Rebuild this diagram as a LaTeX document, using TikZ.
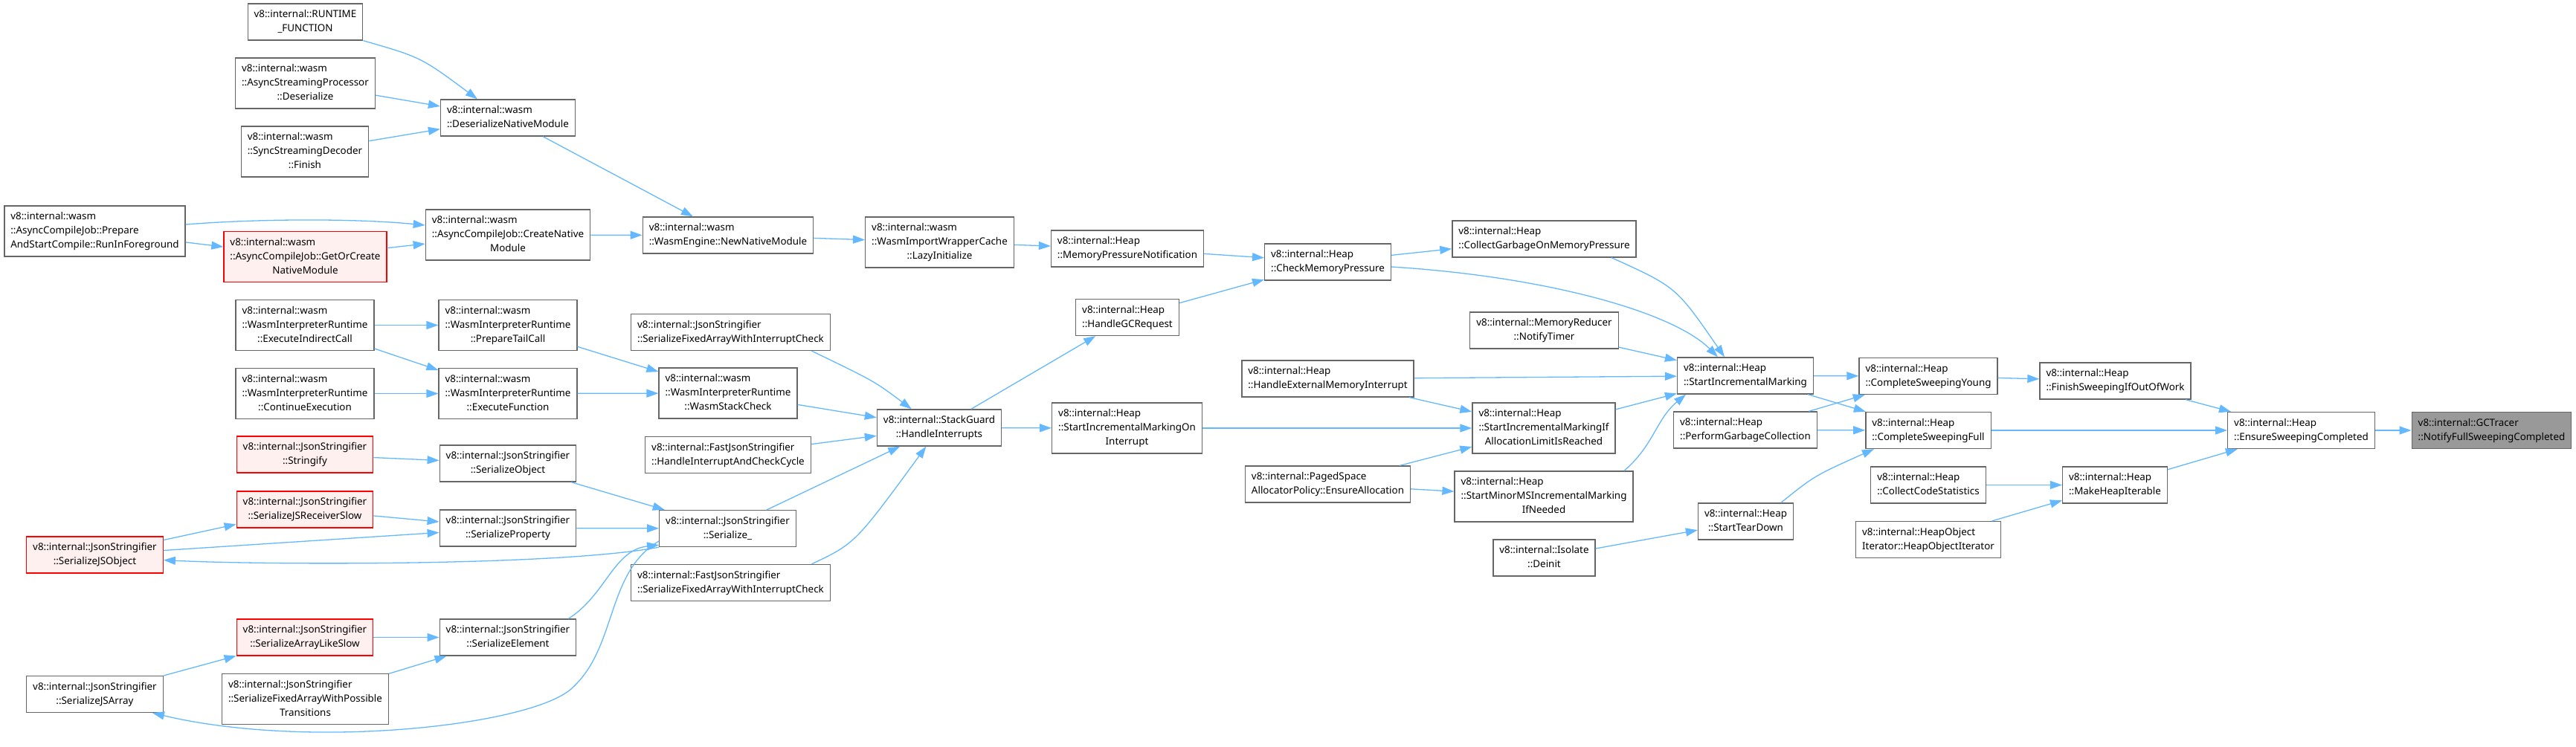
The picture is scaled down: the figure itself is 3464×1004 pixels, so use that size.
\documentclass[tikz,border=0pt]{standalone}
\usepackage{fontspec}
\newfontfamily\graphfont{Noto Sans}
\usetikzlibrary{arrows.meta}
\definecolor{edgeblue}{HTML}{63B8FF}
\definecolor{boxgray}{HTML}{666666}
\definecolor{hotred}{HTML}{FF0000}
\definecolor{hotfill}{HTML}{FFF0F0}
\definecolor{selgray}{HTML}{999999}
% all lines but the last flush left, the last one centred
\newcommand{\fnlabel}[2]{\begin{tabular}{@{}l@{}}#1\\\multicolumn{1}{@{}c@{}}{#2}\end{tabular}}

\begin{document}
\begin{tikzpicture}[x=1pt, y=-1pt,
  fn/.style={draw=boxgray, line width=1.3pt, fill=white, inner xsep=8.5pt, inner ysep=5.5pt,
    font=\graphfont\fontsize{13.4pt}{19pt}\selectfont},
  hot/.style={fn, draw=hotred, fill=hotfill},
  sel/.style={fn, fill=selgray},
  callarrow/.style={draw=edgeblue, line width=1.3pt, -{Triangle[length=16pt,width=11pt]}}]
  \useasboundingbox (0,0) rectangle (3464,1004);
  % wasm callers
  \node[fn] (runtime)       at (410.5,29.5) {\fnlabel{v8::internal::RUNTIME}{\_FUNCTION}};
  \node[fn] (asyncdeser)    at (410.5,112)  {\fnlabel{v8::internal::wasm\\::AsyncStreamingProcessor}{::Deserialize}};
  \node[fn] (syncfinish)    at (410,204)    {\fnlabel{v8::internal::wasm\\::SyncStreamingDecoder}{::Finish}};
  \node[fn] (deserializenm) at (683,158.5)  {\fnlabel{v8::internal::wasm}{::DeserializeNativeModule}};
  \node[fn] (runfg)         at (127.5,311)  {\fnlabel{v8::internal::wasm\\::AsyncCompileJob::Prepare}{AndStartCompile::RunInForeground}};
  \node[hot] (getorcreate)  at (410.5,345.5) {\fnlabel{v8::internal::wasm\\::AsyncCompileJob::GetOrCreate}{NativeModule}};
  \node[fn] (createnm)      at (683,316)    {\fnlabel{v8::internal::wasm\\::AsyncCompileJob::CreateNative}{Module}};
  \node[fn] (newnm)         at (979,316.5)  {\fnlabel{v8::internal::wasm}{::WasmEngine::NewNativeModule}};
  \node[fn] (lazyinit)      at (1263.5,326) {\fnlabel{v8::internal::wasm\\::WasmImportWrapperCache}{::LazyInitialize}};
  \node[fn] (execindirect)  at (410,437.5)  {\fnlabel{v8::internal::wasm\\::WasmInterpreterRuntime}{::ExecuteIndirectCall}};
  \node[fn] (preparetail)   at (683,437.5)  {\fnlabel{v8::internal::wasm\\::WasmInterpreterRuntime}{::PrepareTailCall}};
  \node[fn] (continueexec)  at (410,529.5)  {\fnlabel{v8::internal::wasm\\::WasmInterpreterRuntime}{::ContinueExecution}};
  \node[fn] (execfunc)      at (683,529.5)  {\fnlabel{v8::internal::wasm\\::WasmInterpreterRuntime}{::ExecuteFunction}};
  \node[fn] (wasmstack)     at (979,529)    {\fnlabel{v8::internal::wasm\\::WasmInterpreterRuntime}{::WasmStackCheck}};
  % json stringifier
  \node[hot] (stringify)     at (410,611.5) {\fnlabel{v8::internal::JsonStringifier}{::Stringify}};
  \node[hot] (receiverslow)  at (410,685.5) {\fnlabel{v8::internal::JsonStringifier}{::SerializeJSReceiverSlow}};
  \node[hot] (jsobject)      at (127.5,746.5) {\fnlabel{v8::internal::JsonStringifier}{::SerializeJSObject}};
  \node[hot] (arraylikeslow) at (410,857.5) {\fnlabel{v8::internal::JsonStringifier}{::SerializeArrayLikeSlow}};
  \node[fn] (jsarray)        at (127.5,934) {\fnlabel{v8::internal::JsonStringifier}{::SerializeJSArray}};
  \node[fn] (possibletrans)  at (410.5,940.5) {\fnlabel{v8::internal::JsonStringifier\\::SerializeFixedArrayWithPossible}{Transitions}};
  \node[fn] (serobject)      at (683,623.5) {\fnlabel{v8::internal::JsonStringifier}{::SerializeObject}};
  \node[fn] (serproperty)    at (683,710.5) {\fnlabel{v8::internal::JsonStringifier}{::SerializeProperty}};
  \node[fn] (serelement)     at (683,857.5) {\fnlabel{v8::internal::JsonStringifier}{::SerializeElement}};
  \node[fn] (serialize)      at (978.5,711) {\fnlabel{v8::internal::JsonStringifier}{::Serialize\_}};
  \node[fn] (jsfixedcheck)   at (982.5,447) {\fnlabel{v8::internal::JsonStringifier}{::SerializeFixedArrayWithInterruptCheck}};
  \node[fn] (handlecycle)    at (979,612)   {\fnlabel{v8::internal::FastJsonStringifier}{::HandleInterruptAndCheckCycle}};
  \node[fn] (fastfixedcheck) at (982.5,784) {\fnlabel{v8::internal::FastJsonStringifier}{::SerializeFixedArrayWithInterruptCheck}};
  \node[fn] (stackguard)     at (1263,575.5) {\fnlabel{v8::internal::StackGuard}{::HandleInterrupts}};
  % heap
  \node[fn] (mempressnotif)  at (1516,334.5) {\fnlabel{v8::internal::Heap}{::MemoryPressureNotification}};
  \node[fn] (handlegc)       at (1516,427)   {\fnlabel{v8::internal::Heap}{::HandleGCRequest}};
  \node[fn] (startimonint)   at (1515.5,576) {\fnlabel{v8::internal::Heap\\::StartIncrementalMarkingOn}{Interrupt}};
  \node[fn] (checkmem)       at (1785.5,352.5) {\fnlabel{v8::internal::Heap}{::CheckMemoryPressure}};
  \node[fn] (handleextmem)   at (1785.5,509.5) {\fnlabel{v8::internal::Heap}{::HandleExternalMemoryInterrupt}};
  \node[fn] (ensurealloc)    at (1785.5,651.5) {\fnlabel{v8::internal::PagedSpace}{AllocatorPolicy::EnsureAllocation}};
  \node[fn] (collectgarbage) at (2076.5,321.5) {\fnlabel{v8::internal::Heap}{::CollectGarbageOnMemoryPressure}};
  \node[fn] (notifytimer)    at (2076.5,444.5) {\fnlabel{v8::internal::MemoryReducer}{::NotifyTimer}};
  \node[fn] (startimifalloc) at (2076,576)   {\fnlabel{v8::internal::Heap\\::StartIncrementalMarkingIf}{AllocationLimitIsReached}};
  \node[fn] (startminorms)   at (2076,668)   {\fnlabel{v8::internal::Heap\\::StartMinorMSIncrementalMarking}{IfNeeded}};
  \node[fn] (isolatedeinit)  at (2076.5,750.5) {\fnlabel{v8::internal::Isolate}{::Deinit}};
  \node[fn] (startim)        at (2347,505.5) {\fnlabel{v8::internal::Heap}{::StartIncrementalMarking}};
  \node[fn] (performgc)      at (2347,578.5) {\fnlabel{v8::internal::Heap}{::PerformGarbageCollection}};
  \node[fn] (startteardown)  at (2347.5,701.5) {\fnlabel{v8::internal::Heap}{::StartTearDown}};
  \node[fn] (csyoung)        at (2593,506)   {\fnlabel{v8::internal::Heap}{::CompleteSweepingYoung}};
  \node[fn] (csfull)         at (2593,579)   {\fnlabel{v8::internal::Heap}{::CompleteSweepingFull}};
  \node[fn] (collectcodestats) at (2593,652.5) {\fnlabel{v8::internal::Heap}{::CollectCodeStatistics}};
  \node[fn] (heapobjiter)    at (2593,726)   {\fnlabel{v8::internal::HeapObject}{Iterator::HeapObjectIterator}};
  \node[fn] (finishsweeping) at (2844.5,512.5) {\fnlabel{v8::internal::Heap}{::FinishSweepingIfOutOfWork}};
  \node[fn] (makeheapiter)   at (2844,652.5) {\fnlabel{v8::internal::Heap}{::MakeHeapIterable}};
  \node[fn] (ensuresweep)    at (3094.5,579) {\fnlabel{v8::internal::Heap}{::EnsureSweepingCompleted}};
  \node[sel] (gctracer)      at (3350.5,579) {\fnlabel{v8::internal::GCTracer}{::NotifyFullSweepingCompleted}};
  % straight calls
  \foreach \from/\to in {asyncdeser/deserializenm, syncfinish/deserializenm, deserializenm/newnm,
      runfg/getorcreate, getorcreate/createnm, createnm/newnm, newnm/lazyinit, lazyinit/mempressnotif,
      mempressnotif/checkmem, handlegc/checkmem, checkmem/collectgarbage, notifytimer/startim,
      handleextmem/startim, handleextmem/startimifalloc, startimonint/startimifalloc,
      ensurealloc/startimifalloc, ensurealloc/startminorms, startimifalloc/startim,
      startim/csyoung, startim/csfull, performgc/csyoung, performgc/csfull, isolatedeinit/startteardown,
      csyoung/finishsweeping, finishsweeping/ensuresweep, csfull/ensuresweep, makeheapiter/ensuresweep,
      collectcodestats/makeheapiter, heapobjiter/makeheapiter, ensuresweep/gctracer,
      stackguard/handlegc, stackguard/startimonint, wasmstack/stackguard, handlecycle/stackguard,
      serialize/stackguard, execindirect/preparetail, execindirect/execfunc, continueexec/execfunc,
      preparetail/wasmstack, execfunc/wasmstack, stringify/serobject, serobject/serialize,
      receiverslow/serproperty, serproperty/serialize, jsobject/receiverslow, jsobject/serproperty,
      arraylikeslow/serelement, jsarray/arraylikeslow, possibletrans/serelement}
    \draw[callarrow] (\from) -- (\to);
  % curved calls
  \draw[callarrow] (runtime.south east) .. controls (566,77) .. ([xshift=-41pt]deserializenm.north);
  \draw[callarrow] ([yshift=9pt]runfg.east) .. controls (350,294) and (480,294) .. ([yshift=13pt]createnm.west);
  \draw[callarrow] (jsfixedcheck.-13.6) .. controls (1176,513) .. (stackguard.146.5);
  \draw[callarrow] (fastfixedcheck.13) .. controls (1150,731) .. (stackguard.235);
  \draw[callarrow] (serialize.south west) .. controls (750,762) and (350,760) .. ([yshift=-7pt]jsobject.east);
  \draw[callarrow] ([xshift=-11pt]serelement.north east) .. controls (815,800) and (825,740) .. ([yshift=3pt]serialize.south west);
  \draw[callarrow] ([yshift=-17pt]serialize.west) .. controls (815,770) and (830,870) .. (770,925)
    .. controls (720,975) and (420,1010) .. ([xshift=-15pt]jsarray.south east);
  \draw[callarrow] ([yshift=-6.5pt]checkmem.east) .. controls (2080,372) and (2250,420) .. ([xshift=-37pt]startim.north);
  \draw[callarrow] ([xshift=90.5pt]collectgarbage.south) .. controls (2254,386) .. ([xshift=-28pt]startim.north);
  \draw[callarrow] ([xshift=108pt]startminorms.north) .. controls (2224,599) and (2227,564) .. ([xshift=-80pt]startim.south);
  \draw[callarrow] (startteardown.28) .. controls (2440,640) .. (csfull.199);
\end{tikzpicture}
\end{document}
